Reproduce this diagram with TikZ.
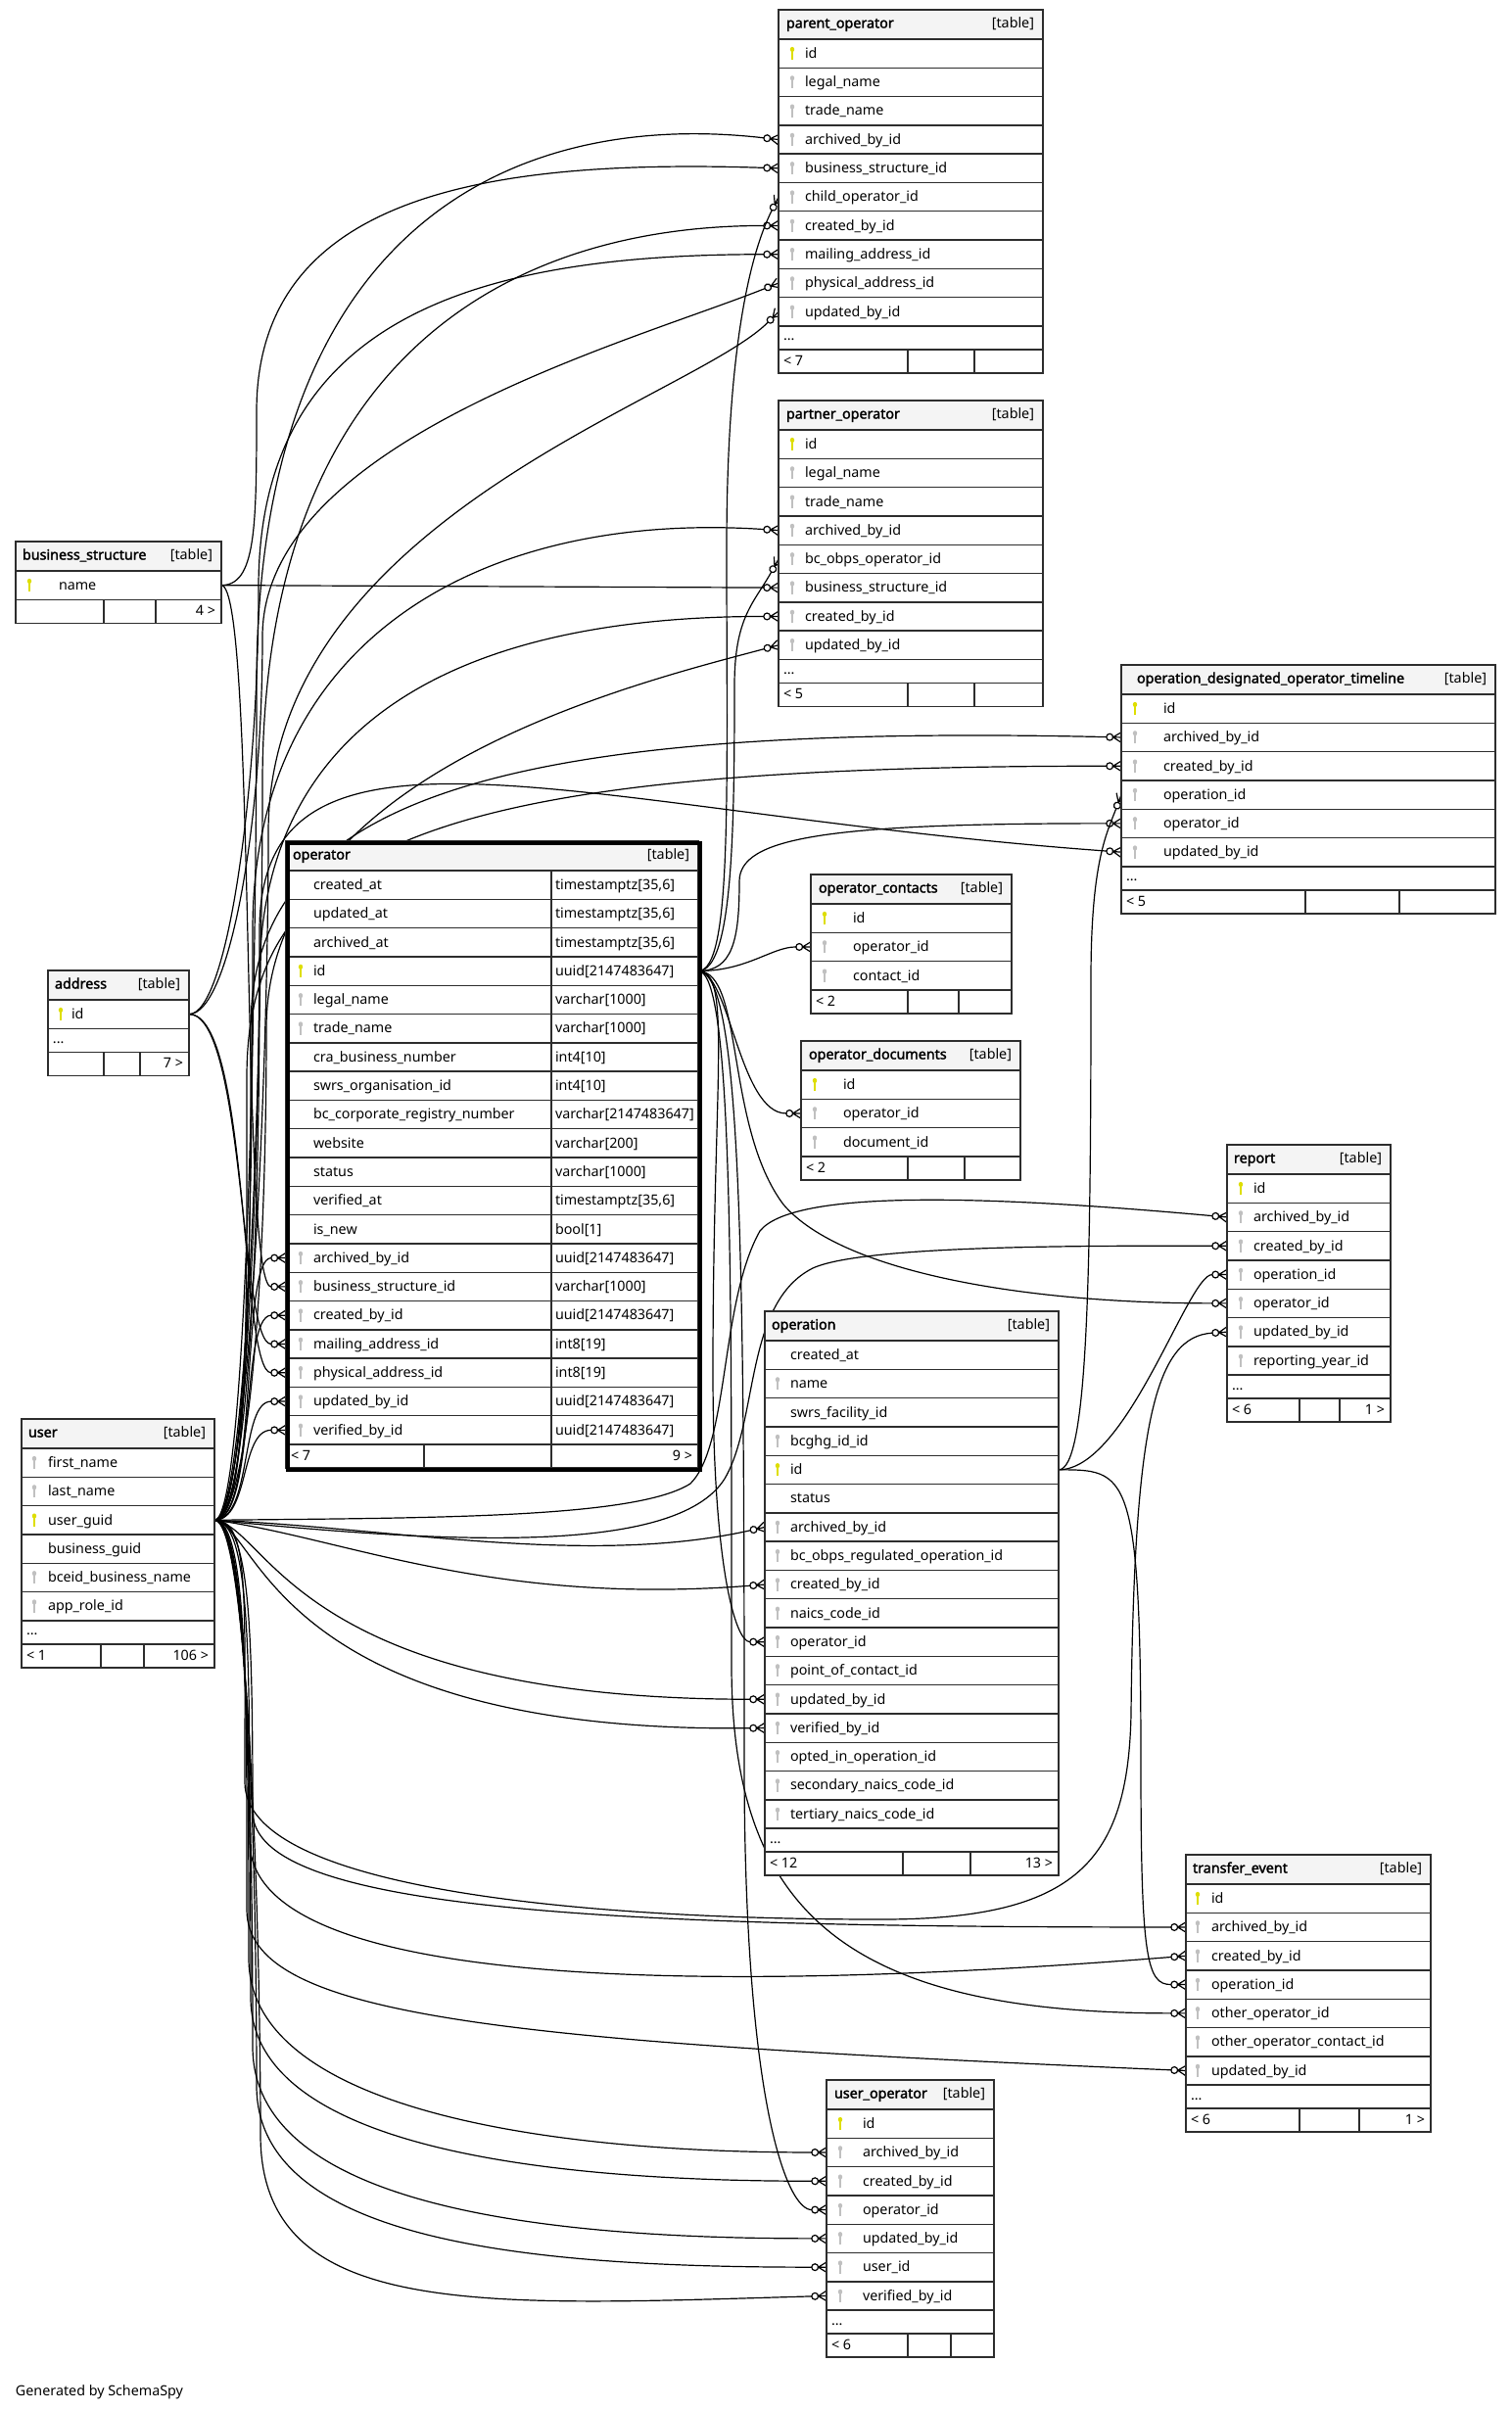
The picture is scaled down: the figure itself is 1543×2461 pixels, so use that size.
\documentclass[tikz,border=0pt]{standalone}
\usepackage{fontspec}
\setmainfont{Noto Sans}[AutoFakeBold=2]
\pgfdeclarelayer{background}
\pgfsetlayers{background,main}
\definecolor{kp}{RGB}{222,222,0}
\definecolor{kf}{RGB}{192,192,192}
\definecolor{kn}{RGB}{255,255,255}
\definecolor{hdrfill}{RGB}{244,244,244}
\definecolor{linec}{RGB}{45,45,45}

% zero-or-many end: open circle followed by a crow's foot
\pgfdeclarearrow{
  name = CrowO,
  setup code = {
    \pgfarrowssettipend{0pt}
    \pgfarrowssetbackend{-7.6pt}
    \pgfarrowssetlineend{-7.6pt}
    \pgfarrowsupperhullpoint{-7.6pt}{2.6pt}
    \pgfarrowsupperhullpoint{0pt}{2.6pt}
  },
  drawing code = {
    \pgfsetdash{}{0pt}
    \pgfpathmoveto{\pgfqpoint{0pt}{2.6pt}}
    \pgfpathlineto{\pgfqpoint{-4.2pt}{0pt}}
    \pgfpathlineto{\pgfqpoint{0pt}{-2.6pt}}
    \pgfpathmoveto{\pgfqpoint{-4.2pt}{0pt}}
    \pgfpathlineto{\pgfqpoint{0pt}{0pt}}
    \pgfusepathqstroke
    \pgfpathcircle{\pgfqpoint{-5.9pt}{0pt}}{1.7pt}
    \pgfusepathqstroke
  },
}

\tikzset{
  tblhead/.style={draw=linec, line width=0.7pt, fill=hdrfill, inner sep=0pt, outer sep=0pt, minimum height=15pt},
  tblrow/.style={draw=linec, line width=0.7pt, fill=white, inner sep=0pt, outer sep=0pt, minimum height=14.65pt},
  tblline/.style={draw=linec, line width=0.7pt},
  tbltxt/.style={inner sep=0pt, outer sep=0pt, font=\fontsize{7.15pt}{8.5pt}\selectfont},
  tbltitle/.style={tbltxt, font=\fontsize{7.15pt}{8.5pt}\selectfont\bfseries},
  fk/.style={draw=black, line width=0.6pt, -CrowO},
  pics/dbkey/.style={code={
    \fill (0,-4.2) ellipse (2.2 and 2.6);
    \fill (-0.9,-3) rectangle (0.9,6.5);
  }},
}

% #1 id, #2 left, #3 right, #4 top, #5 title, #6 key x, #7 text x, #8 title x offset, #9 rows
\newcommand\dbtable[9]{%
  \node[tblhead, minimum width={(#3-#2)*0.5pt}, anchor=north west] (#1) at (#2,#4) {};
  \node[tbltitle, anchor=base west] (#1-title) at (#2+#8,#4+18.5) {#5};
  \node[tbltxt, anchor=base east] (#1-kind) at (#3-9,#4+18.5) {[table]};
  \foreach[count=\i] \kk/\cl in {#9}{%
    \pgfmathsetmacro\yy{#4+30+(\i-1)*29.3}%
    \node[tblrow, minimum width={(#3-#2)*0.5pt}, anchor=north west] (#1-\cl) at (#2,\yy) {};
    \node[tbltxt, anchor=base west] (#1-\cl-t) at (#7,\yy+19.4) {\cl};
    \pic[color=\kk] at (#6,\yy+14.65) {dbkey};
  }%
}
% "..." row
\newcommand\dbdots[4]{%
  \node[tblrow, minimum height=12pt, minimum width={(#3-#2)*0.5pt}, anchor=north west] (#1-more) at (#2,#4) {};
  \node[tbltxt, anchor=base west] (#1-more-t) at (#2+5,#4+15) {...};
}
% footer: #5 #6 dividers, #7 parents, #8 children
\newcommand\dbfoot[8]{%
  \node[tblrow, minimum height=12pt, minimum width={(#3-#2)*0.5pt}, anchor=north west] (#1-foot) at (#2,#4) {};
  \draw[tblline] (#5,#4) -- (#5,#4+24) (#6,#4) -- (#6,#4+24);
  \node[tbltxt, anchor=base west] (#1-prev) at (#2+5,#4+16.5) {#7};
  \node[tbltxt, anchor=base east] (#1-next) at (#3-6,#4+16.5) {#8};
}

\begin{document}
\catcode`\_=12
\begin{tikzpicture}[x=0.5pt, y=-0.5pt]
\useasboundingbox (0,0) rectangle (1543,2461);

% ---------- tables ----------
\dbtable{po}{795}{1065}{10}{parent_operator}{809}{822}{8}{kp/id, kf/legal_name, kf/trade_name, kf/archived_by_id, kf/business_structure_id, kf/child_operator_id, kf/created_by_id, kf/mailing_address_id, kf/physical_address_id, kf/updated_by_id}
\dbdots{po}{795}{1065}{333}
\dbfoot{po}{795}{1065}{357}{927}{995}{< 7}{}

\dbtable{pa}{795}{1065}{409}{partner_operator}{809}{822}{8}{kp/id, kf/legal_name, kf/trade_name, kf/archived_by_id, kf/bc_obps_operator_id, kf/business_structure_id, kf/created_by_id, kf/updated_by_id}
\dbdots{pa}{795}{1065}{673.4}
\dbfoot{pa}{795}{1065}{697.4}{927}{995}{< 5}{}

\dbtable{odt}{1145}{1527}{679}{operation_designated_operator_timeline}{1159}{1188}{16}{kp/id, kf/archived_by_id, kf/created_by_id, kf/operation_id, kf/operator_id, kf/updated_by_id}
\dbdots{odt}{1145}{1527}{884.8}
\dbfoot{odt}{1145}{1527}{908.8}{1333}{1429}{< 5}{}

\dbtable{bs}{16}{226}{553}{business_structure}{30}{60}{7}{kp/name}
\dbfoot{bs}{16}{226}{612.3}{106}{159}{}{4 >}

\dbtable{ad}{49}{193}{991}{address}{62}{73}{7}{kp/id}
\dbdots{ad}{49}{193}{1050.3}
\dbfoot{ad}{49}{193}{1074.3}{106}{143}{}{7 >}

\dbtable{op}{292}{713}{859}{operator}{307}{320}{7}{kn/created_at, kn/updated_at, kn/archived_at, kp/id, kf/legal_name, kf/trade_name, kn/cra_business_number, kn/swrs_organisation_id, kn/bc_corporate_registry_number, kn/website, kn/status, kn/verified_at, kn/is_new, kf/archived_by_id, kf/business_structure_id, kf/created_by_id, kf/mailing_address_id, kf/physical_address_id, kf/updated_by_id, kf/verified_by_id}
\foreach[count=\i] \ty in {{timestamptz[35,6]},{timestamptz[35,6]},{timestamptz[35,6]},{uuid[2147483647]},{varchar[1000]},{varchar[1000]},{int4[10]},{int4[10]},{varchar[2147483647]},{varchar[200]},{varchar[1000]},{timestamptz[35,6]},{bool[1]},{uuid[2147483647]},{varchar[1000]},{uuid[2147483647]},{int8[19]},{int8[19]},{uuid[2147483647]},{uuid[2147483647]}}{%
  \pgfmathsetmacro\yt{889+(\i-1)*29.3+19.4}%
  \node[tbltxt, anchor=base west] (op-type\i) at (567,\yt) {\ty};
}
\draw[tblline] (563,889) -- (563,1475);
\dbfoot{op}{292}{713}{1475}{433}{563}{< 7}{9 >}
\node[draw=black, line width=1.8pt, minimum width=210.5pt, minimum height=320pt, inner sep=0pt, anchor=north west] (op-frame) at (292,859) {};

\dbtable{oc}{828}{1033}{893}{operator_contacts}{842}{871}{8}{kp/id, kf/operator_id, kf/contact_id}
\dbfoot{oc}{828}{1033}{1010.9}{927}{979}{< 2}{}

\dbtable{od}{818}{1042}{1063}{operator_documents}{832}{861}{8}{kp/id, kf/operator_id, kf/document_id}
\dbfoot{od}{818}{1042}{1180.9}{927}{985}{< 2}{}

\dbtable{rp}{1253}{1420}{1169}{report}{1267}{1280}{7}{kp/id, kf/archived_by_id, kf/created_by_id, kf/operation_id, kf/operator_id, kf/updated_by_id, kf/reporting_year_id}
\dbdots{rp}{1253}{1420}{1404.1}
\dbfoot{rp}{1253}{1420}{1428.1}{1327}{1368}{< 6}{1 >}

\dbtable{on}{781}{1081}{1339}{operation}{794}{807}{7}{kn/created_at, kf/name, kn/swrs_facility_id, kf/bcghg_id_id, kp/id, kn/status, kf/archived_by_id, kf/bc_obps_regulated_operation_id, kf/created_by_id, kf/naics_code_id, kf/operator_id, kf/point_of_contact_id, kf/updated_by_id, kf/verified_by_id, kf/opted_in_operation_id, kf/secondary_naics_code_id, kf/tertiary_naics_code_id}
\dbdots{on}{781}{1081}{1867.1}
\dbfoot{on}{781}{1081}{1891.1}{922}{991}{< 12}{13 >}

\dbtable{te}{1211}{1461}{1894}{transfer_event}{1223}{1237}{7}{kp/id, kf/archived_by_id, kf/created_by_id, kf/operation_id, kf/other_operator_id, kf/other_operator_contact_id, kf/updated_by_id}
\dbdots{te}{1211}{1461}{2129.1}
\dbfoot{te}{1211}{1461}{2153.1}{1327}{1388}{< 6}{1 >}

\dbtable{uo}{844}{1015}{2124}{user_operator}{858}{881}{8}{kp/id, kf/archived_by_id, kf/created_by_id, kf/operator_id, kf/updated_by_id, kf/user_id, kf/verified_by_id}
\dbdots{uo}{844}{1015}{2359.1}
\dbfoot{uo}{844}{1015}{2383.1}{927}{971}{< 6}{}

\dbtable{us}{22}{219}{1449}{user}{35}{49}{7}{kf/first_name, kf/last_name, kp/user_guid, kn/business_guid, kf/bceid_business_name, kf/app_role_id}
\dbdots{us}{22}{219}{1654.8}
\dbfoot{us}{22}{219}{1678.8}{103}{147}{< 1}{106 >}

\node[tbltxt, anchor=base west] (credit) at (16,2446) {Generated by SchemaSpy};

% ---------- relationships ----------
\begin{pgfonlayer}{background}
% user.user_guid, upwards
\draw[fk] (us-user_guid.east) .. controls +(35,0) and +(0,250) .. (262,700) .. controls +(0,-480) and +(-260,-30) .. (po-archived_by_id.west);
\draw[fk] (us-user_guid.east) .. controls +(35,0) and +(0,250) .. (268,800) .. controls +(0,-430) and +(-280,0) .. (po-created_by_id.west);
\draw[fk] (us-user_guid.east) .. controls +(35,0) and +(0,250) .. (274,850) .. controls +(0,-320) and +(-90,90) .. (po-updated_by_id.west);
\draw[fk] (us-user_guid.east) .. controls +(35,0) and +(0,250) .. (258,950) .. controls +(0,-300) and +(-300,-20) .. (pa-archived_by_id.west);
\draw[fk] (us-user_guid.east) .. controls +(35,0) and +(0,250) .. (265,1000) .. controls +(0,-280) and +(-300,0) .. (pa-created_by_id.west);
\draw[fk] (us-user_guid.east) .. controls +(35,0) and +(0,250) .. (272,1050) .. controls +(0,-260) and +(-150,40) .. (pa-updated_by_id.west);
\draw[fk] (us-user_guid.east) .. controls +(35,0) and +(0,250) .. (256,1050) .. controls +(0,-230) and +(-650,-15) .. (odt-archived_by_id.west);
\draw[fk] (us-user_guid.east) .. controls +(35,0) and +(0,250) .. (252,1100) .. controls +(0,-240) and +(-700,0) .. (odt-created_by_id.west);
\draw[fk] (us-user_guid.east) .. controls +(35,0) and +(0,200) .. (265,950) .. controls +(0,-250) and +(-550,-40) .. (odt-updated_by_id.west);
\draw[fk] (us-user_guid.east) .. controls (265,1552) and (245,1284.6) .. (op-archived_by_id.west);
\draw[fk] (us-user_guid.east) .. controls (262,1552) and (245,1343.2) .. (op-created_by_id.west);
\draw[fk] (us-user_guid.east) .. controls (258,1552) and (245,1431.1) .. (op-updated_by_id.west);
\draw[fk] (us-user_guid.east) .. controls (255,1552) and (245,1460.4) .. (op-verified_by_id.west);
% user.user_guid, to report
\draw[fk] (us-user_guid.east) .. controls (450,1550) and (650,1550) .. (705,1515) .. controls (745,1475) and (735,1330) .. (776,1257) .. controls (810,1215) and (1000,1220) .. (rp-archived_by_id.west);
\draw[fk] (us-user_guid.east) .. controls (450,1575) and (690,1590) .. (740,1510) .. controls (775,1450) and (760,1330) .. (830,1295) .. controls (880,1272) and (1100,1272) .. (rp-created_by_id.west);
\draw[fk] (us-user_guid.east) .. controls +(35,0) and +(0,-200) .. (250,1820) .. controls (250,1930) and (600,1960) .. (900,1960) .. controls (1100,1960) and (1152,1900) .. (1155,1750) .. controls (1158,1450) and (1180,1365) .. (rp-updated_by_id.west);
% user.user_guid, to operation
\draw[fk] (us-user_guid.east) .. controls (400,1560) and (600,1600) .. (on-archived_by_id.west);
\draw[fk] (us-user_guid.east) .. controls (350,1570) and (500,1640) .. (on-created_by_id.west);
\draw[fk] (us-user_guid.east) .. controls (275,1560) and (300,1735) .. (on-updated_by_id.west);
\draw[fk] (us-user_guid.east) .. controls (265,1560) and (280,1770) .. (on-verified_by_id.west);
% user.user_guid, downwards
\draw[fk] (us-user_guid.east) .. controls +(35,0) and +(0,-200) .. (258,1850) .. controls +(0,100) and +(-600,0) .. (te-archived_by_id.west);
\draw[fk] (us-user_guid.east) .. controls +(35,0) and +(0,-200) .. (255,1880) .. controls +(0,150) and +(-500,40) .. (te-created_by_id.west);
\draw[fk] (us-user_guid.east) .. controls +(35,0) and +(0,-200) .. (252,1950) .. controls +(0,110) and +(-700,-30) .. (te-updated_by_id.west);
\draw[fk] (us-user_guid.east) .. controls +(35,0) and +(0,-200) .. (254,2000) .. controls +(0,150) and +(-300,0) .. (uo-archived_by_id.west);
\draw[fk] (us-user_guid.east) .. controls +(35,0) and +(0,-200) .. (256,2040) .. controls +(0,150) and +(-300,0) .. (uo-created_by_id.west);
\draw[fk] (us-user_guid.east) .. controls +(35,0) and +(0,-200) .. (258,2090) .. controls +(0,160) and +(-300,0) .. (uo-updated_by_id.west);
\draw[fk] (us-user_guid.east) .. controls +(35,0) and +(0,-200) .. (262,2130) .. controls +(0,160) and +(-300,0) .. (uo-user_id.west);
\draw[fk] (us-user_guid.east) .. controls +(35,0) and +(0,-200) .. (266,2180) .. controls +(0,190) and +(-350,10) .. (uo-verified_by_id.west);

% business_structure.name
\draw[fk] (bs-name.east) .. controls +(35,0) and +(0,120) .. (262,420) .. controls +(0,-220) and +(-300,-10) .. (po-business_structure_id.west);
\draw[fk] (bs-name.east) -- (pa-business_structure_id.west);
\draw[fk] (bs-name.east) .. controls (262,598) and (245,1314) .. (op-business_structure_id.west);

% address.id
\draw[fk] (ad-id.east) .. controls +(40,0) and +(0,200) .. (264,600) .. controls +(0,-280) and +(-300,0) .. (po-mailing_address_id.west);
\draw[fk] (ad-id.east) .. controls +(40,0) and +(0,200) .. (268,650) .. controls +(0,-200) and +(-150,60) .. (po-physical_address_id.west);
\draw[fk] (ad-id.east) .. controls (250,1035) and (245,1372.5) .. (op-mailing_address_id.west);
\draw[fk] (ad-id.east) .. controls (255,1035) and (245,1401.8) .. (op-physical_address_id.west);

% operator.id
\draw[fk] (op-id.east) .. controls +(35,0) and +(0,250) .. (742,560) .. controls +(0,-200) and +(-30,60) .. (po-child_operator_id.west);
\draw[fk] (op-id.east) .. controls +(35,0) and +(0,150) .. (750,700) .. controls +(0,-70) and +(-25,45) .. (pa-bc_obps_operator_id.west);
\draw[fk] (op-id.east) .. controls +(35,0) and +(0,60) .. (755,900) .. controls +(0,-45) and +(-300,0) .. (odt-operator_id.west);
\draw[fk] (op-id.east) .. controls +(50,0) and +(-40,0) .. (oc-operator_id.west);
\draw[fk] (op-id.east) .. controls (745,992) and (755,1137) .. (od-operator_id.west);
\draw[fk] (op-id.east) .. controls (760,992) and (740,1150) .. (800,1230) .. controls (860,1300) and (1050,1331) .. (rp-operator_id.west);
\draw[fk] (op-id.east) .. controls +(35,0) and +(0,-300) .. (728,1400) .. controls +(0,200) and +(-30,0) .. (on-operator_id.west);
\draw[fk] (op-id.east) .. controls +(35,0) and +(0,-400) .. (747,1700) .. controls +(0,250) and +(-350,0) .. (te-other_operator_id.west);
\draw[fk] (op-id.east) .. controls +(45,0) and +(0,-500) .. (760,1800) .. controls +(0,350) and +(-40,0) .. (uo-operator_id.west);

% operation.id
\draw[fk] (on-id.east) .. controls +(30,0) and +(0,300) .. (1114,1000) .. controls +(0,-120) and +(-15,40) .. (odt-operation_id.west);
\draw[fk] (on-id.east) .. controls +(70,0) and +(-40,0) .. (rp-operation_id.west);
\draw[fk] (on-id.east) .. controls +(70,0) and +(0,-300) .. (1165,1800) .. controls +(0,200) and +(-40,0) .. (te-operation_id.west);
\end{pgfonlayer}
\end{tikzpicture}
\end{document}
